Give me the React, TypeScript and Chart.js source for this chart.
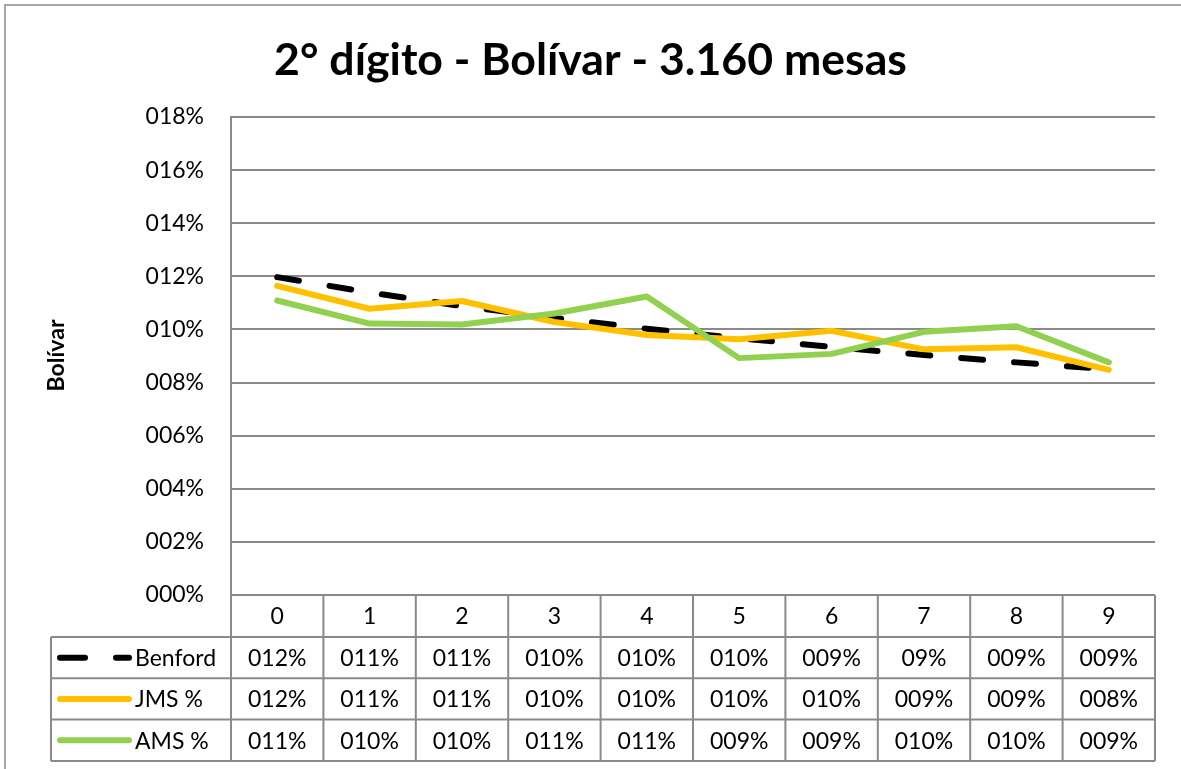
import React, { useEffect, useRef } from 'react';
import { Chart, registerables } from 'chart.js';

Chart.register(...registerables);

const chartTitle = '2° dígito - Bolívar - 3.160 mesas';
const yAxisTitle = 'Bolívar';
const categories = ['0', '1', '2', '3', '4', '5', '6', '7', '8', '9'];
const seriesNames = ['Benford', 'JMS %', 'AMS %'];
const benford = [11.97, 11.39, 10.88, 10.43, 10.03, 9.67, 9.34, 9.04, 8.76, 8.5];
const jms = [11.64, 10.78, 11.07, 10.28, 9.79, 9.63, 9.95, 9.25, 9.33, 8.48];
const ams = [11.09, 10.22, 10.19, 10.6, 11.24, 8.92, 9.08, 9.91, 10.12, 8.76];
const benfordTable = ['012%', '011%', '011%', '010%', '010%', '010%', '009%', '09%', '009%', '009%'];
const jmsTable = ['012%', '011%', '011%', '010%', '010%', '010%', '010%', '009%', '009%', '008%'];
const amsTable = ['011%', '010%', '010%', '011%', '011%', '009%', '009%', '010%', '010%', '009%'];
const yMin = 0;
const yMax = 18;
const yStep = 2;

const W = 1181;
const H = 769;
const GRID = '#8a8a8a';
const FONT = 'Lato, "Open Sans", sans-serif';
const colors = ['#000000', '#FFC000', '#92D050'];
const benfordDash = [22, 31];

const tablePlugin = {
  id: 'excelTable',
  afterDraw(chart: any) {
    const ctx: CanvasRenderingContext2D = chart.ctx;
    const area = chart.chartArea;
    const xs = chart.scales.x;
    ctx.save();

    // outer chart border
    ctx.strokeStyle = GRID;
    ctx.lineWidth = 1.5;
    ctx.strokeRect(5, 5, W + 20, H + 20);

    // title
    ctx.fillStyle = '#000';
    ctx.textAlign = 'center';
    ctx.textBaseline = 'alphabetic';
    ctx.font = `bold 48px ${FONT}`;
    const tw = ctx.measureText(chartTitle).width;
    const size = (48 * 633) / tw;
    ctx.font = `bold ${size.toFixed(2)}px ${FONT}`;
    ctx.fillText(chartTitle, 590.5, 75);

    // y axis title
    ctx.save();
    ctx.translate(64, 355.5);
    ctx.rotate(-Math.PI / 2);
    ctx.font = `bold 22px ${FONT}`;
    const yw = ctx.measureText(yAxisTitle).width;
    const ys = Math.min(24, (22 * 72) / yw);
    ctx.font = `bold ${ys.toFixed(2)}px ${FONT}`;
    ctx.textAlign = 'center';
    ctx.textBaseline = 'alphabetic';
    ctx.fillText(yAxisTitle, 0, 0);
    ctx.restore();

    // data table
    const left = area.left;
    const right = area.right;
    const top = area.bottom;
    const headerH = 42;
    const rowH = 41.3;
    const legendLeft = 51;
    const n = categories.length;
    const colW = (right - left) / n;
    const rowsTop = top + headerH;
    const bottom = rowsTop + rowH * 3;

    ctx.strokeStyle = GRID;
    ctx.lineWidth = 2;
    ctx.beginPath();
    ctx.moveTo(left, top);
    ctx.lineTo(right, top);
    for (let r = 0; r <= 3; r++) {
      const y = rowsTop + r * rowH;
      ctx.moveTo(legendLeft, y);
      ctx.lineTo(right, y);
    }
    ctx.moveTo(legendLeft, rowsTop);
    ctx.lineTo(legendLeft, bottom);
    for (let i = 0; i <= n; i++) {
      const x = left + i * colW;
      ctx.moveTo(x, top);
      ctx.lineTo(x, bottom);
    }
    ctx.stroke();

    ctx.fillStyle = '#000';
    ctx.font = `23px ${FONT}`;
    ctx.textAlign = 'center';
    ctx.textBaseline = 'alphabetic';
    const capOff = 8.3;
    categories.forEach((c, i) => {
      const cx = xs.getPixelForValue(i);
      ctx.fillText(c, cx, top + headerH / 2 + capOff);
    });
    const tables = [benfordTable, jmsTable, amsTable];
    tables.forEach((row, r) => {
      const cy = rowsTop + r * rowH + rowH / 2;
      row.forEach((txt, i) => {
        ctx.fillText(txt, xs.getPixelForValue(i), cy + capOff);
      });
    });

    tables.forEach((_, r) => {
      const cy = rowsTop + r * rowH + rowH / 2;
      ctx.save();
      ctx.strokeStyle = colors[r];
      ctx.lineWidth = 6;
      ctx.lineCap = 'round';
      if (r === 0) ctx.setLineDash([25, 31]);
      ctx.beginPath();
      ctx.moveTo(60, cy);
      ctx.lineTo(129, cy);
      ctx.stroke();
      ctx.restore();
      ctx.textAlign = 'left';
      ctx.fillStyle = '#000';
      ctx.font = `23px ${FONT}`;
      ctx.fillText(seriesNames[r], 135, cy + capOff);
    });

    ctx.restore();
  },
};

export default function App() {
  const ref = useRef<HTMLCanvasElement | null>(null);

  useEffect(() => {
    if (!ref.current) return;
    const chart = new Chart(ref.current, {
      type: 'line',
      data: {
        labels: categories,
        datasets: [
          {
            label: seriesNames[0],
            data: benford,
            borderColor: colors[0],
            borderWidth: 6,
            borderDash: benfordDash,
            borderCapStyle: 'round',
            borderJoinStyle: 'round',
            pointRadius: 0,
            tension: 0,
            order: 3,
          },
          {
            label: seriesNames[1],
            data: jms,
            borderColor: colors[1],
            borderWidth: 6,
            borderCapStyle: 'round',
            borderJoinStyle: 'round',
            pointRadius: 0,
            tension: 0,
            order: 2,
          },
          {
            label: seriesNames[2],
            data: ams,
            borderColor: colors[2],
            borderWidth: 6,
            borderCapStyle: 'round',
            borderJoinStyle: 'round',
            pointRadius: 0,
            tension: 0,
            order: 1,
          },
        ],
      },
      options: {
        responsive: false,
        maintainAspectRatio: false,
        animation: false,
        layout: { padding: { left: 0, top: 117, right: 26, bottom: 174 } },
        plugins: {
          legend: { display: false },
          title: { display: false },
          tooltip: { enabled: false },
        },
        scales: {
          x: {
            type: 'category',
            offset: true,
            display: false,
          },
          y: {
            min: yMin,
            max: yMax,
            afterFit(scale: any) {
              scale.width = 231;
            },
            ticks: {
              stepSize: yStep,
              padding: 27,
              color: '#000',
              font: { family: FONT, size: 23 },
              callback: (v: any) => String(v).padStart(3, '0') + '%',
            },
            grid: { color: GRID, lineWidth: 2, drawTicks: false },
            border: { display: true, color: GRID, width: 2 },
          },
        },
      },
      plugins: [tablePlugin],
    });
    return () => chart.destroy();
  }, []);

  return (
    <div style={{ position: 'absolute', left: 0, top: 0, width: W, height: H, background: '#fff' }}>
      <canvas ref={ref} width={W} height={H} style={{ display: 'block', width: W, height: H }} />
    </div>
  );
}
